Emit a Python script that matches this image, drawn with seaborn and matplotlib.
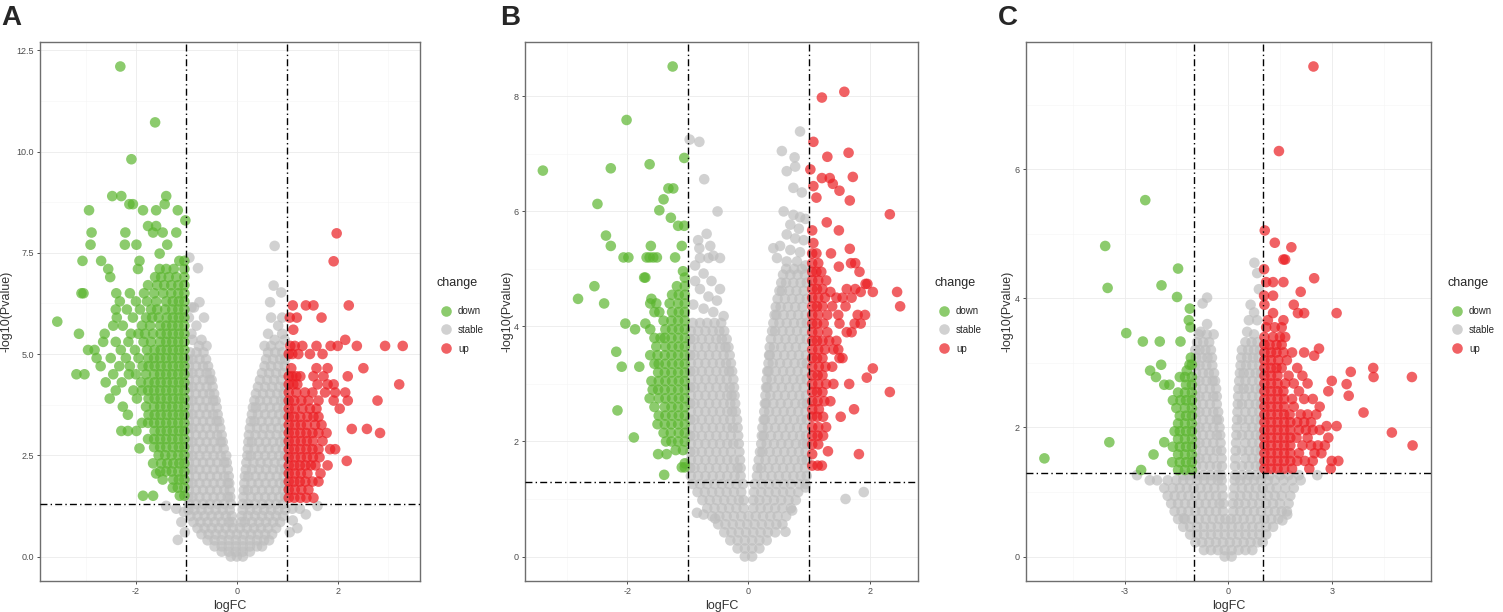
import matplotlib
matplotlib.use("Agg")
import matplotlib.pyplot as plt
from matplotlib.ticker import FixedLocator, FormatStrFormatter
import seaborn as sns
import pandas as pd
import numpy as np

# cut-offs used in the figure
fc_cut = 1.0
p_cut = 0.05

# Each group: rows of (-log10 Pvalue, [logFC, ...])

# ---------------- Panel A ----------------
a_stable = [
    (0.00, [-0.12, 0.0, 0.12]),
    (0.12, [-0.30, -0.16, -0.02, 0.12, 0.26]),
    (0.25, [-0.44, -0.30, -0.16, -0.02, 0.12, 0.26, 0.40, 0.50]),
    (0.40, [-0.58, -0.44, -0.30, -0.16, -0.02, 0.12, 0.26, 0.40, 0.54, 0.64]),
    (0.55, [-0.70, -0.56, -0.42, -0.28, -0.14, 0.0, 0.14, 0.28, 0.42, 0.56, 0.70]),
    (0.70, [-0.78, -0.64, -0.50, -0.36, -0.22, -0.08, 0.06, 0.20, 0.34, 0.48, 0.62, 0.78]),
    (0.85, [-0.86, -0.72, -0.58, -0.44, -0.30, -0.16, -0.09, 0.09, 0.16, 0.30, 0.44, 0.58, 0.72, 0.86]),
    (1.00, [-0.92, -0.78, -0.64, -0.50, -0.36, -0.22, -0.10, 0.10, 0.22, 0.36, 0.50, 0.64, 0.78, 0.92]),
    (1.15, [-0.96, -0.84, -0.70, -0.56, -0.42, -0.28, -0.14, 0.12, 0.26, 0.40, 0.54, 0.68, 0.82, 0.96]),
    (1.30, [-0.95, -0.81, -0.67, -0.53, -0.39, -0.25, -0.12, 0.12, 0.22, 0.36, 0.50, 0.64, 0.78, 0.92]),
    (1.47, [-0.96, -0.88, -0.74, -0.60, -0.46, -0.32, -0.18, -0.13, 0.13, 0.28, 0.42, 0.56, 0.70, 0.84, 0.96]),
    (1.64, [-0.95, -0.81, -0.67, -0.53, -0.39, -0.25, -0.14, 0.14, 0.22, 0.36, 0.50, 0.64, 0.78, 0.92]),
    (1.81, [-0.96, -0.88, -0.74, -0.60, -0.46, -0.32, -0.18, -0.15, 0.15, 0.29, 0.43, 0.57, 0.71, 0.85, 0.96]),
    (1.98, [-0.95, -0.81, -0.67, -0.53, -0.39, -0.25, -0.16, 0.16, 0.23, 0.37, 0.51, 0.65, 0.79, 0.93]),
    (2.15, [-0.96, -0.88, -0.74, -0.60, -0.46, -0.32, -0.18, 0.18, 0.30, 0.44, 0.58, 0.72, 0.86, 0.96]),
    (2.32, [-0.95, -0.81, -0.67, -0.53, -0.39, -0.25, -0.20, 0.19, 0.33, 0.47, 0.61, 0.75, 0.89]),
    (2.49, [-0.96, -0.88, -0.74, -0.60, -0.46, -0.32, -0.21, 0.21, 0.28, 0.42, 0.56, 0.70, 0.84, 0.96]),
    (2.66, [-0.95, -0.81, -0.67, -0.53, -0.39, -0.26, 0.22, 0.35, 0.49, 0.63, 0.77, 0.91]),
    (2.83, [-0.96, -0.88, -0.74, -0.60, -0.46, -0.32, -0.28, 0.23, 0.30, 0.44, 0.58, 0.72, 0.86, 0.96]),
    (3.00, [-0.95, -0.81, -0.67, -0.53, -0.39, -0.30, 0.24, 0.37, 0.51, 0.65, 0.79, 0.93]),
    (3.17, [-0.96, -0.88, -0.74, -0.60, -0.46, -0.33, 0.26, 0.40, 0.54, 0.68, 0.82, 0.96]),
    (3.34, [-0.95, -0.81, -0.67, -0.53, -0.40, -0.35, 0.28, 0.35, 0.49, 0.63, 0.77, 0.91]),
    (3.51, [-0.96, -0.88, -0.74, -0.60, -0.47, -0.38, 0.30, 0.42, 0.56, 0.70, 0.84, 0.96]),
    (3.68, [-0.95, -0.81, -0.67, -0.54, -0.40, 0.32, 0.38, 0.52, 0.66, 0.80, 0.93]),
    (3.85, [-0.96, -0.88, -0.74, -0.60, -0.47, -0.42, 0.35, 0.46, 0.60, 0.74, 0.88, 0.96]),
    (4.02, [-0.95, -0.81, -0.67, -0.54, -0.45, 0.38, 0.52, 0.66, 0.80, 0.93]),
    (4.19, [-0.96, -0.88, -0.74, -0.60, -0.48, 0.42, 0.56, 0.70, 0.84, 0.96]),
    (4.36, [-0.95, -0.81, -0.67, -0.54, -0.50, 0.46, 0.60, 0.74, 0.88]),
    (4.53, [-0.96, -0.88, -0.74, -0.60, -0.53, 0.50, 0.64, 0.78, 0.92]),
    (4.70, [-0.95, -0.81, -0.67, -0.57, 0.55, 0.68, 0.82, 0.95]),
    (4.87, [-0.96, -0.88, -0.74, -0.61, 0.58, 0.72, 0.86, 0.96]),
    (5.04, [-0.93, -0.80, -0.66, 0.62, 0.76, 0.90]),
    (5.20, [-0.60, -0.75, 0.55, 0.68, 0.85]),
    (5.35, [-0.88, -0.70, 0.75, 0.95]),
    (5.50, [-0.90, 0.62, 0.90]),
    (5.70, [-0.80, 0.82]),
    (5.90, [-0.65, -0.95, 0.68, 0.90]),
    (6.15, [-0.85, -0.90]),
    (6.28, [-0.74, 0.66]),
    (6.52, [0.88]),
    (6.69, [0.73]),
    (7.12, [-0.77]),
    (7.38, [-0.94]),
    (7.67, [0.75]),
    (0.41, [-1.17]),
    (0.60, [-1.03, 1.05]),
    (0.70, [1.20]),
    (0.85, [-1.10]),
    (0.89, [1.11]),
    (1.04, [1.37]),
    (1.10, [-1.05]),
    (1.18, [-1.20, 1.10, 1.25]),
    (1.25, [-1.40, 1.60]),
]

a_down = [
    (1.50, [-1.04, -1.13, -1.66, -1.86]),
    (1.70, [-1.04, -1.17, -1.27]),
    (1.90, [-1.04, -1.15, -1.26, -1.47]),
    (2.05, [-1.60]),
    (2.10, [-1.04, -1.16, -1.29, -1.40, -1.52]),
    (2.30, [-1.04, -1.14, -1.26, -1.38, -1.50, -1.66]),
    (2.50, [-1.04, -1.16, -1.29, -1.42, -1.55]),
    (2.67, [-1.93]),
    (2.70, [-1.04, -1.15, -1.27, -1.40, -1.52, -1.64]),
    (2.90, [-1.04, -1.16, -1.28, -1.40, -1.52, -1.64, -1.76]),
    (3.10, [-1.04, -1.15, -1.27, -1.39, -1.51, -1.63, -1.99, -2.16, -2.29]),
    (3.30, [-1.04, -1.16, -1.28, -1.40, -1.52, -1.64, -1.76, -1.88]),
    (3.50, [-1.04, -1.15, -1.27, -1.39, -1.51, -1.63, -1.75, -2.16]),
    (3.70, [-1.04, -1.16, -1.28, -1.40, -1.52, -1.64, -1.80, -2.26]),
    (3.90, [-1.04, -1.15, -1.27, -1.39, -1.51, -1.63, -1.75, -1.98, -2.52]),
    (4.10, [-1.04, -1.16, -1.28, -1.40, -1.52, -1.64, -1.76, -1.88, -2.05, -2.40]),
    (4.30, [-1.04, -1.15, -1.27, -1.39, -1.51, -1.63, -1.75, -1.90, -2.28, -2.60]),
    (4.50, [-1.04, -1.16, -1.28, -1.40, -1.52, -1.64, -1.80, -2.00, -2.14, -2.45, -3.02, -3.18]),
    (4.70, [-1.04, -1.15, -1.27, -1.39, -1.51, -1.63, -1.75, -1.87, -2.12, -2.33, -2.70]),
    (4.90, [-1.04, -1.16, -1.28, -1.40, -1.52, -1.64, -1.76, -1.95, -2.20, -2.50, -2.78]),
    (5.10, [-1.04, -1.15, -1.27, -1.39, -1.51, -1.63, -1.78, -2.02, -2.30, -2.82, -2.95]),
    (5.30, [-1.04, -1.16, -1.28, -1.40, -1.52, -1.70, -1.85, -2.15, -2.40, -2.65]),
    (5.50, [-1.04, -1.15, -1.27, -1.39, -1.51, -1.66, -1.82, -1.95, -2.10, -2.62, -3.13]),
    (5.70, [-1.04, -1.16, -1.28, -1.40, -1.52, -1.72, -1.88, -2.26, -2.45]),
    (5.80, [-3.56]),
    (5.90, [-1.04, -1.15, -1.27, -1.39, -1.55, -1.68, -1.80, -2.06, -2.38]),
    (6.10, [-1.04, -1.16, -1.28, -1.42, -1.58, -1.70, -1.92, -2.18, -2.40]),
    (6.30, [-1.04, -1.15, -1.27, -1.40, -1.60, -1.78, -2.00, -2.32]),
    (6.50, [-1.04, -1.16, -1.30, -1.46, -1.64, -1.84, -2.12, -2.39, -3.04, -3.08]),
    (6.70, [-1.04, -1.16, -1.30, -1.44, -1.58, -1.76]),
    (6.90, [-1.04, -1.20, -1.35, -1.50, -1.62, -2.51]),
    (7.10, [-1.04, -1.25, -1.40, -1.53, -1.96, -2.55]),
    (7.30, [-1.04, -1.14, -1.93, -2.69, -3.06]),
    (7.48, [-1.53]),
    (7.70, [-1.38, -1.99, -2.22, -2.90]),
    (8.00, [-1.20, -1.47, -1.66, -2.21, -2.88]),
    (8.16, [-1.60, -1.76]),
    (8.30, [-1.02]),
    (8.55, [-1.17, -1.60, -1.86, -2.93]),
    (8.70, [-2.06, -2.13, -1.43]),
    (8.90, [-2.47, -2.29, -1.40]),
    (9.81, [-2.09]),
    (10.72, [-1.62]),
    (12.10, [-2.31]),
]

a_up = [
    (1.45, [1.03, 1.14, 1.26, 1.38, 1.52]),
    (1.65, [1.03, 1.15, 1.28, 1.42]),
    (1.85, [1.03, 1.14, 1.25, 1.36, 1.50, 1.62]),
    (2.05, [1.03, 1.15, 1.27, 1.40, 1.66]),
    (2.25, [1.03, 1.14, 1.25, 1.36, 1.47, 1.56, 1.80]),
    (2.36, [2.18]),
    (2.45, [1.03, 1.15, 1.27, 1.39, 1.51, 1.64]),
    (2.65, [1.03, 1.14, 1.26, 1.38, 1.50, 1.62, 1.85, 1.95]),
    (2.85, [1.03, 1.15, 1.27, 1.39, 1.51, 1.70]),
    (3.05, [1.03, 1.14, 1.26, 1.38, 1.50, 1.62, 1.78, 2.84]),
    (3.15, [2.28, 2.58]),
    (3.25, [1.03, 1.15, 1.27, 1.39, 1.55, 1.68]),
    (3.45, [1.03, 1.14, 1.26, 1.40, 1.52, 1.62]),
    (3.65, [1.03, 1.15, 1.30, 1.45, 1.58, 2.04]),
    (3.85, [1.03, 1.14, 1.28, 1.42, 1.62, 1.92, 2.20, 2.79]),
    (4.05, [1.03, 1.18, 1.35, 1.50, 1.75, 1.95, 2.15]),
    (4.25, [1.03, 1.12, 1.20, 1.60, 1.80, 1.92, 3.22]),
    (4.45, [1.03, 1.10, 1.18, 1.26, 1.52, 1.72, 2.20]),
    (4.65, [1.08, 1.58, 1.80, 2.51]),
    (5.00, [1.03, 1.10, 1.22, 1.45, 1.70]),
    (5.20, [1.06, 1.15, 1.30, 1.58, 1.86, 2.00, 2.38, 2.94, 3.29]),
    (5.35, [2.15]),
    (5.60, [1.12]),
    (5.90, [1.05, 1.19, 1.68]),
    (6.20, [1.11, 1.37, 1.52, 2.22]),
    (7.29, [1.92]),
    (7.98, [1.98]),
]

# ---------------- Panel B ----------------
b_stable = [
    (0.00, [-0.06, 0.06]),
    (0.14, [-0.18, -0.06, 0.06, 0.18]),
    (0.28, [-0.30, -0.18, -0.06, 0.06, 0.18, 0.30]),
    (0.42, [-0.40, -0.28, -0.16, -0.04, 0.08, 0.20, 0.32, 0.44]),
    (0.56, [-0.50, -0.38, -0.26, -0.14, -0.02, 0.10, 0.22, 0.34, 0.46, 0.56]),
    (0.70, [-0.60, -0.48, -0.36, -0.24, -0.12, 0.0, 0.12, 0.24, 0.36, 0.48, 0.62]),
    (0.84, [-0.68, -0.56, -0.44, -0.32, -0.20, -0.08, 0.08, 0.20, 0.32, 0.44, 0.56, 0.70]),
    (0.98, [-0.76, -0.64, -0.52, -0.40, -0.28, -0.16, -0.08, 0.08, 0.18, 0.30, 0.42, 0.54, 0.66, 0.78]),
    (1.12, [-0.84, -0.72, -0.60, -0.48, -0.36, -0.24, -0.12, 0.09, 0.21, 0.33, 0.45, 0.57, 0.69, 0.82]),
    (1.26, [-0.92, -0.80, -0.68, -0.56, -0.44, -0.32, -0.20, -0.09, 0.10, 0.22, 0.34, 0.46, 0.58, 0.70, 0.84, 0.94]),
    (1.40, [-0.95, -0.83, -0.71, -0.59, -0.47, -0.35, -0.23, -0.13, 0.14, 0.26, 0.38, 0.50, 0.62, 0.74, 0.86, 0.96]),
    (1.54, [-0.96, -0.89, -0.77, -0.65, -0.53, -0.41, -0.29, -0.18, -0.13, 0.15, 0.21, 0.33, 0.45, 0.57, 0.69, 0.81, 0.93]),
    (1.68, [-0.95, -0.83, -0.71, -0.59, -0.47, -0.35, -0.24, -0.14, 0.17, 0.28, 0.40, 0.52, 0.64, 0.76, 0.88, 0.96]),
    (1.82, [-0.96, -0.89, -0.77, -0.65, -0.53, -0.41, -0.29, -0.15, 0.19, 0.23, 0.35, 0.47, 0.59, 0.71, 0.83, 0.94]),
    (1.96, [-0.95, -0.83, -0.71, -0.59, -0.47, -0.35, -0.25, -0.16, 0.21, 0.30, 0.42, 0.54, 0.66, 0.78, 0.90, 0.96]),
    (2.10, [-0.96, -0.89, -0.77, -0.65, -0.53, -0.41, -0.29, -0.17, 0.22, 0.25, 0.37, 0.49, 0.61, 0.73, 0.85, 0.95]),
    (2.24, [-0.95, -0.83, -0.71, -0.59, -0.47, -0.35, -0.26, -0.18, 0.23, 0.32, 0.44, 0.56, 0.68, 0.80, 0.92]),
    (2.38, [-0.96, -0.89, -0.77, -0.65, -0.53, -0.41, -0.30, -0.19, 0.25, 0.27, 0.39, 0.51, 0.63, 0.75, 0.87, 0.96]),
    (2.52, [-0.95, -0.83, -0.71, -0.59, -0.47, -0.35, -0.27, -0.21, 0.26, 0.34, 0.46, 0.58, 0.70, 0.82, 0.94]),
    (2.66, [-0.96, -0.89, -0.77, -0.65, -0.53, -0.41, -0.30, -0.22, 0.27, 0.29, 0.41, 0.53, 0.65, 0.77, 0.89, 0.96]),
    (2.80, [-0.95, -0.83, -0.71, -0.59, -0.47, -0.35, -0.28, -0.23, 0.28, 0.36, 0.48, 0.60, 0.72, 0.84, 0.95]),
    (2.94, [-0.96, -0.89, -0.77, -0.65, -0.53, -0.41, -0.31, -0.24, 0.29, 0.31, 0.43, 0.55, 0.67, 0.79, 0.91]),
    (3.08, [-0.95, -0.83, -0.71, -0.59, -0.47, -0.36, -0.25, 0.30, 0.38, 0.50, 0.62, 0.74, 0.86, 0.96]),
    (3.22, [-0.96, -0.89, -0.77, -0.65, -0.53, -0.41, -0.32, -0.27, 0.31, 0.33, 0.45, 0.57, 0.69, 0.81, 0.93]),
    (3.36, [-0.95, -0.83, -0.71, -0.59, -0.47, -0.37, -0.29, 0.33, 0.40, 0.52, 0.64, 0.76, 0.88, 0.96]),
    (3.50, [-0.96, -0.89, -0.77, -0.65, -0.53, -0.41, -0.31, 0.34, 0.35, 0.47, 0.59, 0.71, 0.83, 0.95]),
    (3.64, [-0.95, -0.83, -0.71, -0.59, -0.47, -0.38, -0.33, 0.35, 0.42, 0.54, 0.66, 0.78, 0.90]),
    (3.78, [-0.96, -0.89, -0.77, -0.65, -0.53, -0.44, -0.36, 0.37, 0.49, 0.61, 0.73, 0.85, 0.96]),
    (3.92, [-0.95, -0.83, -0.71, -0.59, -0.48, -0.40, 0.39, 0.44, 0.56, 0.68, 0.80, 0.92]),
    (4.06, [-0.92, -0.80, -0.68, -0.56, -0.45, 0.41, 0.51, 0.63, 0.75, 0.87, 0.96]),
    (4.20, [0.43, 0.46, 0.58, 0.70, 0.82, 0.94]),
    (4.34, [0.45, 0.53, 0.65, 0.77, 0.89]),
    (4.48, [0.48, 0.60, 0.72, 0.84, 0.96]),
    (4.62, [0.51, 0.55, 0.67, 0.79, 0.91]),
    (4.76, [0.54, 0.62, 0.74, 0.86, 0.96]),
    (4.90, [0.57, 0.69, 0.81, 0.93]),
    (5.00, [0.62, 0.75, 0.88]),
    (4.18, [-0.41]),
    (4.25, [-0.58]),
    (4.31, [-0.74]),
    (4.38, [-0.91]),
    (4.45, [-0.52]),
    (4.52, [-0.66]),
    (4.65, [-0.47, -0.80]),
    (4.79, [-0.61, -0.88]),
    (4.92, [-0.74]),
    (5.06, [-0.88, 0.94]),
    (5.13, [0.63, 0.80]),
    (5.19, [-0.47, -0.66, -0.80, 0.47]),
    (5.23, [-0.58]),
    (5.29, [0.85]),
    (5.33, [0.69]),
    (5.36, [-0.81, 0.41]),
    (5.40, [-0.63, 0.52]),
    (5.50, [-0.83, 0.91]),
    (5.53, [0.77]),
    (5.60, [0.63]),
    (5.61, [-0.69]),
    (5.70, [0.83]),
    (5.77, [0.69]),
    (5.87, [0.94]),
    (5.90, [0.85]),
    (5.94, [0.74]),
    (6.00, [-0.51, 0.58]),
    (6.33, [0.88]),
    (6.41, [0.74]),
    (6.56, [-0.73]),
    (6.70, [0.63]),
    (6.78, [0.77]),
    (6.94, [0.76]),
    (7.05, [0.55]),
    (7.21, [-0.81]),
    (7.25, [-0.97]),
    (7.39, [0.85]),
    (0.43, [0.61]),
    (0.66, [-0.55]),
    (0.73, [-0.74]),
    (0.76, [-0.85]),
    (0.80, [0.72]),
    (1.00, [1.60]),
    (1.12, [1.90]),
    (1.20, [0.94]),
]

b_down = [
    (1.42, [-1.39]),
    (1.55, [-1.05, -1.10]),
    (1.62, [-1.05]),
    (1.78, [-1.49, -1.35]),
    (1.85, [-1.08, -1.20]),
    (2.00, [-1.05, -1.16, -1.27, -1.36]),
    (2.07, [-1.89]),
    (2.15, [-1.05, -1.15, -1.28, -1.40]),
    (2.30, [-1.05, -1.16, -1.27, -1.38, -1.50]),
    (2.45, [-1.05, -1.15, -1.26, -1.37, -1.48]),
    (2.54, [-2.16]),
    (2.60, [-1.05, -1.16, -1.27, -1.38, -1.55]),
    (2.75, [-1.05, -1.15, -1.26, -1.37, -1.48, -1.63]),
    (2.90, [-1.05, -1.16, -1.27, -1.38, -1.49, -1.58]),
    (3.05, [-1.05, -1.15, -1.26, -1.37, -1.48, -1.60]),
    (3.20, [-1.05, -1.16, -1.27, -1.38, -1.49]),
    (3.30, [-1.80, -2.09]),
    (3.35, [-1.05, -1.15, -1.26, -1.37, -1.48, -1.55]),
    (3.50, [-1.05, -1.16, -1.27, -1.38, -1.50, -1.62]),
    (3.56, [-2.18]),
    (3.65, [-1.05, -1.15, -1.26, -1.37, -1.52]),
    (3.80, [-1.05, -1.16, -1.27, -1.38, -1.45, -1.55]),
    (3.95, [-1.05, -1.15, -1.26, -1.37, -1.62, -1.87]),
    (4.05, [-2.03, -1.70]),
    (4.10, [-1.05, -1.16, -1.27, -1.40]),
    (4.25, [-1.05, -1.15, -1.26, -1.47, -1.55]),
    (4.40, [-1.05, -1.16, -1.30, -1.52, -1.62, -2.38]),
    (4.48, [-2.81, -1.60]),
    (4.55, [-1.05, -1.15, -1.26]),
    (4.70, [-1.05, -1.18, -2.54]),
    (4.85, [-1.05, -1.72, -1.70]),
    (4.96, [-1.08]),
    (5.20, [-1.21, -1.51, -1.57, -1.63, -1.68, -1.98, -2.06]),
    (5.40, [-1.10, -1.61, -2.27]),
    (5.58, [-2.35]),
    (5.75, [-1.06, -1.16]),
    (5.89, [-1.28]),
    (6.02, [-1.47]),
    (6.13, [-2.49]),
    (6.21, [-1.40]),
    (6.40, [-1.24, -1.32]),
    (6.71, [-3.39]),
    (6.75, [-2.27]),
    (6.82, [-1.63]),
    (6.93, [-1.06]),
    (7.59, [-2.01]),
    (8.52, [-1.25]),
]

b_up = [
    (1.58, [1.05, 1.14, 1.21]),
    (1.78, [1.05, 1.82]),
    (1.83, [1.31]),
    (1.95, [1.05, 1.15]),
    (2.10, [1.05, 1.14, 1.23]),
    (2.25, [1.05, 1.15, 1.28]),
    (2.43, [1.05, 1.13, 1.23, 1.52]),
    (2.56, [1.05, 1.16, 1.74]),
    (2.70, [1.05, 1.14, 1.25, 1.35]),
    (2.86, [1.05, 1.13, 1.22, 2.33]),
    (3.00, [1.05, 1.15, 1.28, 1.40, 1.66]),
    (3.11, [1.95]),
    (3.15, [1.05, 1.14, 1.22]),
    (3.27, [2.05]),
    (3.30, [1.05, 1.16, 1.27, 1.38]),
    (3.45, [1.05, 1.13, 1.22, 1.50, 1.55]),
    (3.60, [1.05, 1.15, 1.26, 1.40, 1.48]),
    (3.75, [1.05, 1.13, 1.22, 1.33, 1.45]),
    (3.90, [1.05, 1.15, 1.30, 1.62, 1.70]),
    (4.05, [1.05, 1.13, 1.24, 1.50, 1.75, 1.85]),
    (4.20, [1.05, 1.15, 1.30, 1.48, 1.80, 1.92]),
    (4.35, [1.05, 1.13, 1.22, 1.38, 1.60, 2.50]),
    (4.50, [1.05, 1.15, 1.26, 1.45, 1.55, 1.70]),
    (4.60, [1.35, 1.85, 2.05, 2.45]),
    (4.65, [1.05, 1.13, 1.22, 1.62, 1.76]),
    (4.74, [1.93, 1.96]),
    (4.80, [1.05, 1.15, 1.28]),
    (4.95, [1.05, 1.12, 1.20, 1.83]),
    (5.04, [1.49]),
    (5.10, [1.05, 1.15, 1.69, 1.76]),
    (5.27, [1.05, 1.12, 1.36]),
    (5.35, [1.67]),
    (5.45, [1.07]),
    (5.67, [1.05, 1.49]),
    (5.81, [1.29]),
    (5.95, [2.33]),
    (6.19, [1.67]),
    (6.24, [1.12]),
    (6.36, [1.50]),
    (6.44, [1.07]),
    (6.48, [1.39]),
    (6.58, [1.21, 1.34]),
    (6.60, [1.72]),
    (6.73, [1.02]),
    (6.95, [1.30]),
    (7.02, [1.65]),
    (7.21, [1.07]),
    (7.98, [1.21]),
    (8.08, [1.58]),
]

# ---------------- Panel C ----------------
c_stable = [
    (0.00, [-0.10, 0.10]),
    (0.10, [-0.70, -0.50, -0.30, -0.10, 0.10, 0.30, 0.50, 0.70]),
    (0.22, [-0.95, -0.75, -0.55, -0.35, -0.15, 0.05, 0.25, 0.45, 0.65, 0.85, 1.00]),
    (0.34, [-1.10, -0.90, -0.70, -0.50, -0.30, -0.10, 0.10, 0.30, 0.50, 0.70, 0.90, 1.10]),
    (0.46, [-1.30, -1.10, -0.90, -0.70, -0.50, -0.30, -0.10, 0.10, 0.30, 0.50, 0.70, 0.90, 1.10, 1.30]),
    (0.58, [-1.45, -1.25, -1.05, -0.85, -0.65, -0.45, -0.25, -0.08, 0.08, 0.25, 0.45, 0.65, 0.85, 1.05, 1.25, 1.45]),
    (0.70, [-1.55, -1.35, -1.15, -0.95, -0.75, -0.55, -0.35, -0.15, 0.15, 0.35, 0.55, 0.75, 0.95, 1.15, 1.35, 1.55, 1.70]),
    (0.82, [-1.65, -1.45, -1.25, -1.05, -0.85, -0.65, -0.45, -0.25, -0.14, 0.14, 0.30, 0.50, 0.70, 0.90, 1.10, 1.30, 1.50, 1.75]),
    (0.94, [-1.75, -1.55, -1.35, -1.15, -0.95, -0.75, -0.55, -0.35, -0.16, 0.16, 0.35, 0.55, 0.75, 0.95, 1.15, 1.35, 1.55, 1.80]),
    (1.06, [-1.85, -1.60, -1.40, -1.20, -1.00, -0.80, -0.60, -0.40, -0.18, 0.18, 0.40, 0.60, 0.80, 1.00, 1.20, 1.40, 1.65, 1.90]),
    (1.18, [-2.27, -2.06, -1.75, -1.50, -1.30, -1.10, -0.90, -0.70, -0.50, -0.30, -0.19, 0.19, 0.35, 0.55, 0.75, 0.95, 1.15, 1.35, 1.60, 1.85, 2.10]),
    (1.26, [-2.64, -1.30, -1.10, -0.90, -0.70, -0.50, -0.30, -0.20, 0.20, 0.40, 0.60, 0.80, 1.00, 1.20, 1.50, 1.75, 2.05, 2.58]),
    (1.40, [-0.93, -0.73, -0.53, -0.33, -0.18, 0.20, 0.40, 0.60, 0.80, 0.95]),
    (1.52, [-0.95, -0.83, -0.63, -0.43, -0.19, 0.21, 0.50, 0.70, 0.90]),
    (1.64, [-0.93, -0.73, -0.53, -0.33, -0.20, 0.22, 0.40, 0.60, 0.80, 0.95]),
    (1.76, [-0.95, -0.83, -0.63, -0.43, -0.22, 0.23, 0.50, 0.70, 0.90]),
    (1.88, [-0.93, -0.73, -0.53, -0.33, -0.23, 0.24, 0.40, 0.60, 0.80, 0.95]),
    (2.00, [-0.95, -0.83, -0.63, -0.43, -0.25, 0.25, 0.50, 0.70, 0.90]),
    (2.12, [-0.93, -0.73, -0.53, -0.33, -0.27, 0.26, 0.40, 0.60, 0.80, 0.95]),
    (2.24, [-0.95, -0.83, -0.63, -0.43, -0.29, 0.27, 0.50, 0.70, 0.90]),
    (2.36, [-0.93, -0.73, -0.53, -0.33, 0.28, 0.40, 0.60, 0.80, 0.95]),
    (2.48, [-0.95, -0.83, -0.63, -0.43, -0.33, 0.29, 0.50, 0.70, 0.90]),
    (2.60, [-0.93, -0.73, -0.53, -0.35, 0.30, 0.45, 0.60, 0.80, 0.95]),
    (2.72, [-0.95, -0.83, -0.63, -0.45, -0.38, 0.32, 0.50, 0.70, 0.90]),
    (2.84, [-0.93, -0.73, -0.56, -0.41, 0.34, 0.45, 0.62, 0.80, 0.95]),
    (2.96, [-0.95, -0.83, -0.63, -0.46, 0.36, 0.52, 0.70, 0.90]),
    (3.08, [-0.93, -0.76, -0.60, -0.47, 0.38, 0.55, 0.72, 0.88]),
    (3.20, [-0.95, -0.83, -0.66, -0.50, 0.40, 0.58, 0.75, 0.92]),
    (3.32, [-0.90, -0.72, -0.55, 0.50, 0.68, 0.85]),
    (3.44, [-0.85, -0.62, -0.42, 0.75]),
    (3.48, [-0.80, 0.55]),
    (3.60, [-0.61]),
    (3.66, [0.84, 0.60]),
    (3.78, [0.75]),
    (3.90, [0.65]),
    (3.92, [-0.74]),
    (4.01, [-0.61]),
    (4.14, [0.89]),
    (4.39, [0.84]),
    (4.55, [0.76]),
    (0.56, [1.57]),
    (0.59, [-1.29]),
    (0.65, [1.71]),
]

c_down = [
    (1.34, [-1.05, -1.25, -1.45, -2.52]),
    (1.46, [-1.05, -1.22, -1.40, -1.62]),
    (1.52, [-5.32]),
    (1.58, [-1.05, -1.25, -1.45, -2.16]),
    (1.70, [-1.05, -1.22, -1.40, -1.60]),
    (1.77, [-3.44, -1.85]),
    (1.82, [-1.05, -1.25, -1.45]),
    (1.94, [-1.05, -1.22, -1.40, -1.55]),
    (2.06, [-1.05, -1.25, -1.45]),
    (2.18, [-1.05, -1.22, -1.40]),
    (2.30, [-1.05, -1.25, -1.50]),
    (2.42, [-1.05, -1.22, -1.38, -1.60]),
    (2.54, [-1.05, -1.25, -1.45]),
    (2.66, [-1.05, -1.22, -1.70, -1.85]),
    (2.78, [-1.05, -1.25, -1.40, -2.09]),
    (2.88, [-2.26, -1.20]),
    (2.97, [-1.05, -1.12, -1.94]),
    (3.08, [-1.08]),
    (3.33, [-1.38, -1.98, -2.47]),
    (3.46, [-2.95]),
    (3.55, [-1.09]),
    (3.66, [-1.14]),
    (3.84, [-1.11]),
    (4.02, [-1.48]),
    (4.16, [-3.49]),
    (4.20, [-1.93]),
    (4.46, [-1.45]),
    (4.81, [-3.56]),
    (5.52, [-2.40]),
]

c_up = [
    (1.36, [1.05, 1.24, 1.43, 1.62, 1.85, 2.35, 2.97]),
    (1.48, [1.05, 1.24, 1.43, 1.62, 1.80, 2.00, 2.22, 2.45, 3.00, 3.19]),
    (1.60, [1.05, 1.24, 1.43, 1.62, 1.80, 2.05, 2.50, 2.70]),
    (1.72, [1.05, 1.24, 1.43, 1.62, 1.80, 2.15, 2.40, 2.60, 2.80, 5.34]),
    (1.84, [1.05, 1.24, 1.43, 1.62, 1.80, 1.98, 2.30, 2.90]),
    (1.92, [4.74]),
    (1.96, [1.05, 1.24, 1.43, 1.62, 1.80, 2.05, 2.25, 2.45, 2.65]),
    (2.02, [2.85, 3.14]),
    (2.08, [1.05, 1.24, 1.43, 1.62, 1.80, 2.00, 2.20, 2.40]),
    (2.20, [1.05, 1.24, 1.43, 1.62, 1.78, 2.10, 2.30, 2.55]),
    (2.23, [3.92]),
    (2.32, [1.05, 1.24, 1.43, 1.62, 1.90, 2.65]),
    (2.44, [1.05, 1.24, 1.43, 1.62, 1.85, 2.20, 2.45]),
    (2.49, [3.49]),
    (2.56, [1.05, 1.24, 1.43, 1.60, 2.05, 2.90]),
    (2.67, [3.43]),
    (2.68, [1.05, 1.24, 1.43, 1.65, 1.90, 2.30]),
    (2.72, [3.00]),
    (2.78, [4.21, 5.32]),
    (2.80, [1.05, 1.24, 1.43, 1.75, 2.15]),
    (2.86, [3.55]),
    (2.92, [1.05, 1.24, 1.40, 1.55, 2.00, 4.20]),
    (3.04, [1.05, 1.24, 1.45, 1.70]),
    (3.11, [2.49]),
    (3.16, [1.05, 1.24, 1.40, 1.60, 1.85, 2.20]),
    (3.22, [2.63]),
    (3.28, [1.05, 1.20, 1.40, 1.55]),
    (3.40, [1.05, 1.30, 1.50, 1.65]),
    (3.55, [1.10, 1.35, 1.55]),
    (3.66, [1.15, 1.60]),
    (3.77, [1.30, 2.02, 2.20, 3.14]),
    (3.90, [1.05, 1.90]),
    (4.04, [1.04, 1.30]),
    (4.10, [2.10]),
    (4.25, [1.10, 1.30, 1.60]),
    (4.31, [2.49]),
    (4.45, [1.04]),
    (4.60, [1.60, 1.65]),
    (4.79, [1.83]),
    (4.86, [1.35]),
    (5.05, [1.06]),
    (6.28, [1.47]),
    (7.59, [2.47]),
]

panel_labels = ["A", "B", "C"]
x_ticks = [[-2, 0, 2], [-2, 0, 2], [-3, 0, 3]]
y_ticks = [[0, 2.5, 5, 7.5, 10, 12.5], [0, 2, 4, 6, 8], [0, 2, 4, 6]]
y_fmt = ["%.1f", "%d", "%d"]
groups = [
    (a_stable, a_down, a_up),
    (b_stable, b_down, b_up),
    (c_stable, c_down, c_up),
]

palette = {"down": "#5BB52F", "stable": "#BEBEBE", "up": "#EB1E23"}


def to_frame(stable, down, up):
    recs = []
    for change, rows in (("stable", stable), ("down", down), ("up", up)):
        for p, xs in rows:
            for x in xs:
                recs.append({"logFC": x, "nlp": p, "change": change})
    return pd.DataFrame(recs)


sns.set_style("white")
plt.rcParams["font.family"] = ["Liberation Sans", "DejaVu Sans"]
plt.rcParams["axes.unicode_minus"] = False

W, H = 1503, 612
fig = plt.figure(figsize=(W / 100, H / 100), dpi=100)

# axes boxes in pixels: (left, right)
boxes = [(40, 420), (525, 918), (1026, 1431)]
top_px, bot_px = 42, 581
letter_x = [1, 500, 998]
ylabel_px = [13, 513, 1013]

for i in range(3):
    l, r = boxes[i]
    w = r - l
    ax = fig.add_axes([l / W, 1 - bot_px / H, w / W, (bot_px - top_px) / H])
    df = to_frame(*groups[i])

    sns.scatterplot(data=df, x="logFC", y="nlp", hue="change",
                    hue_order=["down", "stable", "up"], palette=palette,
                    s=58, alpha=0.7, linewidth=0, ax=ax, zorder=3)

    # ggplot-like 5% expansion
    xr = df.logFC.max() - df.logFC.min()
    yr = df.nlp.max() - df.nlp.min()
    ax.set_xlim(df.logFC.min() - 0.05 * xr, df.logFC.max() + 0.05 * xr)
    ax.set_ylim(df.nlp.min() - 0.05 * yr, df.nlp.max() + 0.05 * yr)

    dd = (0, (5, 2.3, 1, 2.3))
    ax.axvline(-fc_cut, color="black", lw=1.0, ls=dd, zorder=4)
    ax.axvline(fc_cut, color="black", lw=1.0, ls=dd, zorder=4)
    ax.axhline(-np.log10(p_cut), color="black", lw=1.0, ls=dd, zorder=4)

    xt = x_ticks[i]
    yt = y_ticks[i]
    ax.xaxis.set_major_locator(FixedLocator(xt))
    ax.yaxis.set_major_locator(FixedLocator(yt))
    dx = xt[1] - xt[0]
    dy = yt[1] - yt[0]
    ax.xaxis.set_minor_locator(FixedLocator([xt[0] - dx / 2] + [t + dx / 2 for t in xt]))
    ax.yaxis.set_minor_locator(FixedLocator([t + dy / 2 for t in yt]))
    ax.xaxis.set_major_formatter(FormatStrFormatter("%d"))
    ax.yaxis.set_major_formatter(FormatStrFormatter(y_fmt[i]))

    ax.grid(which="major", color="#EBEBEB", lw=0.6)
    ax.grid(which="minor", color="#F5F5F5", lw=0.4)
    ax.set_axisbelow(True)
    ax.tick_params(which="major", direction="out", length=2.5, width=0.6,
                   color="#333333", labelsize=6.5, labelcolor="#4D4D4D", pad=2,
                   bottom=True, left=True)
    ax.tick_params(which="minor", length=0)
    for sp in ax.spines.values():
        sp.set_color("#6E6E6E")
        sp.set_linewidth(1.0)

    ax.set_xlabel("logFC", fontsize=9, color="#333333", labelpad=3)
    ax.set_ylabel("-log10(Pvalue)", fontsize=9, color="#333333")
    ax.yaxis.set_label_coords((ylabel_px[i] - l) / w, 0.5)

    sns.move_legend(ax, "center left", bbox_to_anchor=(1 + 7.4 / w, 0.4926),
                    frameon=False, title="change", fontsize=7, title_fontsize=9,
                    alignment="left", handletextpad=0.25, labelspacing=0.9)
    leg = ax.get_legend()
    leg._legend_box.sep = 12

    fig.text(letter_x[i] / W, 1 - 25 / H, panel_labels[i], fontsize=20,
             fontweight="bold", ha="left", va="baseline")

fig.savefig("out.png", dpi=100)
